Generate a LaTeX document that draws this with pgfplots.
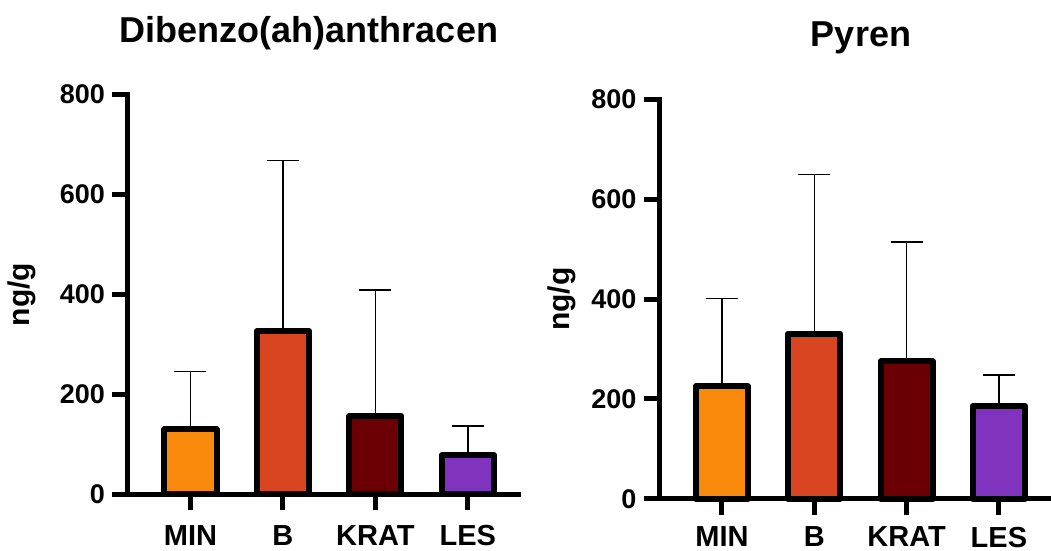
\documentclass[border=0pt]{standalone}
\usepackage{fontspec}
\setmainfont{Liberation Sans}
\usepackage{pgfplots}
\pgfplotsset{compat=1.18}
\definecolor{cmin}{RGB}{250,138,12}
\definecolor{cb}{RGB}{216,69,32}
\definecolor{ckrat}{RGB}{106,0,4}
\definecolor{cles}{RGB}{128,51,190}
\pgfplotsset{
 myaxis/.style={
  scale only axis,
  xmin=-0.676, xmax=3.553, ymin=0, ymax=800,
  axis x line*=bottom, axis y line*=left,
  axis line style={line width=2.5pt, -, line cap=rect},
  xtick={0,1,2,3}, xticklabels={MIN,B,KRAT,LES},
  ytick={0,200,400,600,800},
  tick align=outside, major tick length=8pt,
  tick style={black, line width=2.5pt},
  /pgf/number format/assume math mode=true,
  yticklabel style={font=\fontsize{13.5}{16}\selectfont\bfseries},
  xticklabel style={font=\fontsize{14.5}{16}\selectfont\bfseries, yshift=-4pt},
  ylabel={ng/g},
  clip=false,
 },
 mybar/.style={ybar, bar width=26pt, draw=black, line width=3pt, line join=round, fill=#1,
   error bars/.cd, y dir=plus, y explicit, error mark=|,
   error bar style={line width=0.7pt, black, line join=miter},
   error mark options={line width=0.7pt, mark size=8pt, black}},
}
\begin{document}
\begin{tikzpicture}
\path[use as bounding box] (0,0) rectangle (525.5pt,275.5pt);
\begin{axis}[myaxis, at={(64pt,28.25pt)}, anchor=south west,
  width=195.5pt, height=200pt,
  ylabel style={font=\fontsize{15}{18}\selectfont\bfseries, at={(axis description cs:-0.272,0.5)}, anchor=center}]
\addplot[mybar=cmin] coordinates {(0,130) +- (0,116)};
\addplot[mybar=cb] coordinates {(1,327) +- (0,341)};
\addplot[mybar=ckrat] coordinates {(2,157) +- (0,252)};
\addplot[mybar=cles] coordinates {(3,79) +- (0,58)};
\end{axis}
\begin{axis}[myaxis, at={(329.75pt,26.1pt)}, anchor=south west,
  width=195.25pt, height=199.75pt,
  xticklabel style={yshift=1.5pt},
  ylabel style={font=\fontsize{15}{18}\selectfont\bfseries, at={(axis description cs:-0.251,0.5)}, anchor=center}]
\addplot[mybar=cmin] coordinates {(0,225) +- (0,176)};
\addplot[mybar=cb] coordinates {(1,331) +- (0,319)};
\addplot[mybar=ckrat] coordinates {(2,275) +- (0,239)};
\addplot[mybar=cles] coordinates {(3,186) +- (0,62)};
\end{axis}
\node[anchor=base, font=\fontsize{18}{22}\selectfont\bfseries] at (154.5pt,254pt) {Dibenzo(ah)anthracen};
\node[anchor=base, font=\fontsize{18}{22}\selectfont\bfseries] at (430.5pt,252.2pt) {Pyren};
\end{tikzpicture}
\end{document}
